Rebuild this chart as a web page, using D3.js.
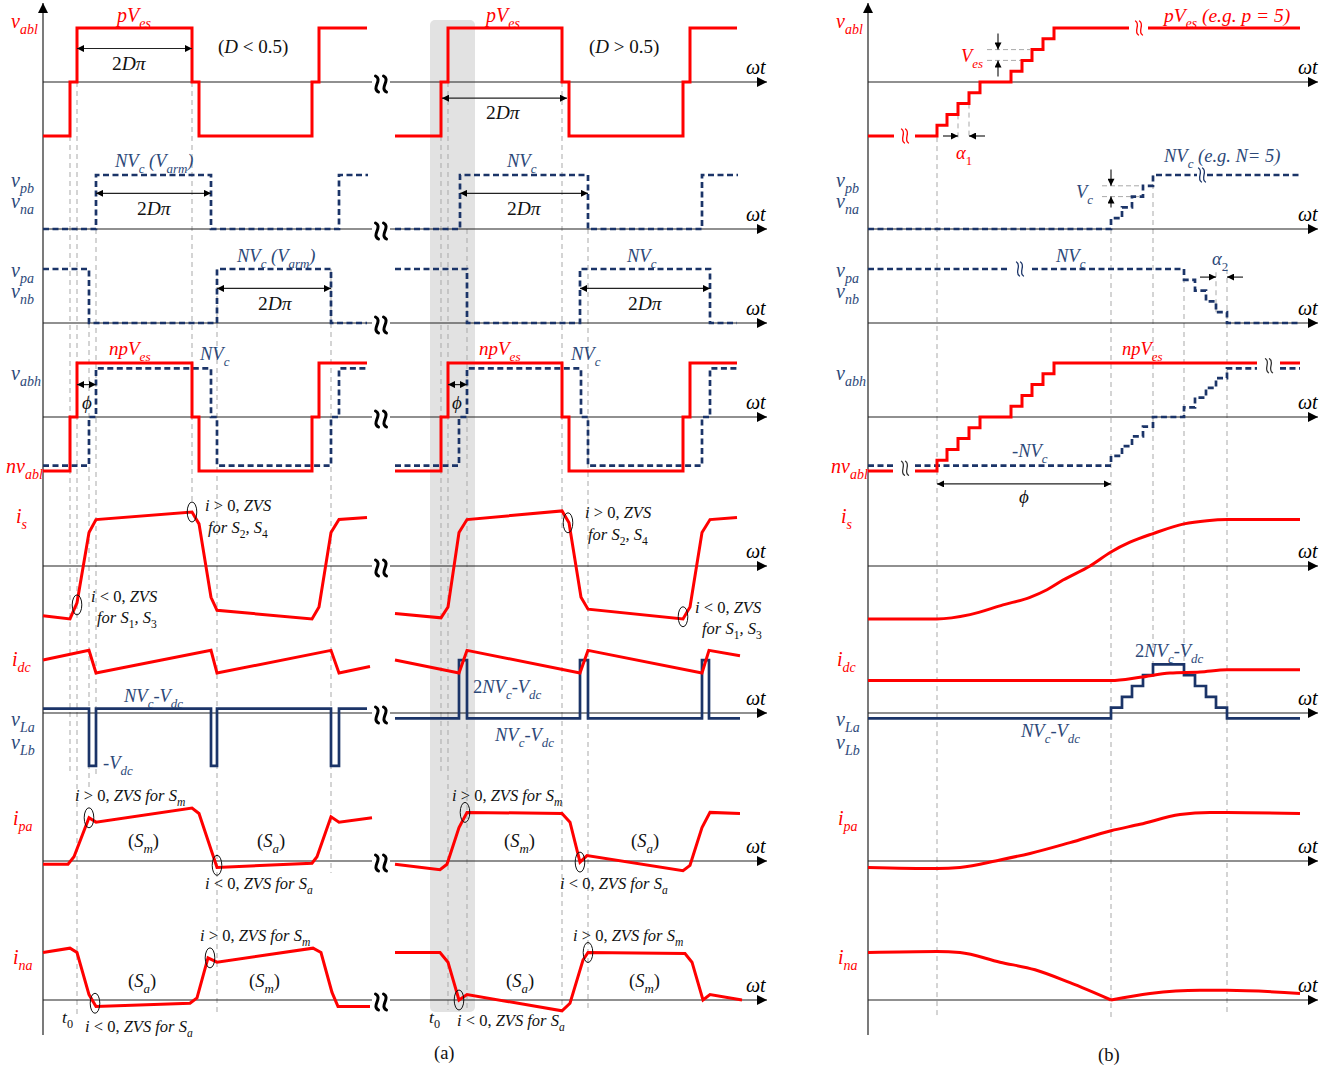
<!DOCTYPE html>
<html>
<head>
<meta charset="utf-8">
<script src="https://cdn.jsdelivr.net/npm/d3@7"></script>
<style>
  body { margin: 0; background: #fff; }
  svg { display: block; }
</style>
</head>
<body>
<svg id="chart" width="1342" height="1072"></svg>
<script>
// ---------------------------------------------------------------
// Waveform data. x: ωt in drawing units, y: level units per row
// (one level unit = one cell / submodule step).
// Panel (a): left half D < 0.5 (x 0..330), right half D > 0.5 (x 352..700)
// ---------------------------------------------------------------
const vablA1 = [[0,-5],[27,0],[34,5],[149,0],[156,-5],[269,0],[276,5],[324,5]];
const vablA2 = [[352,-5],[398,0],[405,5],[519,0],[526,-5],[640,0],[647,5],[694,5]];

const vpbA1 = [[0,0],[53,5],[168,0],[296,5],[325,5]];
const vpbA2 = [[352,0],[417,5],[545,0],[659,5],[695,5]];

const vpaA1 = [[0,5],[46,0],[174,5],[288,0],[324,0]];
const vpaA2 = [[352,5],[424,0],[537,5],[667,0],[694,0]];

const vabhA1 = [[0,-4.5],[46,0],[53,4.5],[168,0],[174,-4.5],[288,0],[296,4.5],[324,4.5]];
const vabhA2 = [[352,-4.5],[416,0],[424,4.5],[538,0],[545,-4.5],[659,0],[667,4.5],[694,4.5]];

const isA1 = [[0,-4.6],[27,-4.9],[34,-3.4],[46,3.1],[53,4.3],[149,5.0],[156,3.9],[168,-2.9],[174,-4.1],[269,-4.9],[276,-3.8],[288,3.1],[296,4.3],[324,4.5]];
const isA2 = [[352,-4.4],[398,-4.8],[405,-3.8],[416,3.1],[424,4.3],[519,5.1],[526,4.0],[538,-2.9],[545,-4.0],[640,-4.9],[647,-3.8],[659,3.1],[667,4.3],[694,4.5]];

const idcA1 = [[0,4.9],[46,5.8],[53,3.7],[168,5.8],[174,3.7],[288,5.8],[296,3.7],[327,4.3]];
const idcA2 = [[352,4.9],[416,3.7],[424,5.8],[537,3.7],[545,5.8],[659,3.7],[666,5.8],[697,5.3]];

const vLaA1 = [[0,0.4],[46,-4.9],[53,0.4],[168,-4.9],[174,0.4],[288,-4.9],[296,0.4],[324,0.4]];
const vLaA2 = [[352,-0.5],[416,4.9],[424,-0.5],[537,4.9],[545,-0.5],[659,4.9],[666,-0.5],[697,-0.5]];

const ipaA1 = [[0,-0.3],[25,-0.3],[31,0.4],[46,4.0],[53,3.6],[149,4.9],[156,4.4],[174,-0.6],[269,-0.2],[274,0.4],[288,4.1],[296,3.6],[329,4.0]];
const ipaA2 = [[352,-0.3],[397,-0.8],[404,-0.3],[416,3.1],[424,4.5],[519,4.4],[527,3.6],[537,-0.1],[544,0.5],[640,-0.9],[647,-0.4],[659,3.1],[667,4.5],[697,4.4]];

const inaA1 = [[0,4.4],[27,4.8],[34,4.4],[46,0.5],[53,-0.6],[147,-0.3],[154,0.2],[165,3.9],[174,3.5],[270,4.8],[278,4.4],[289,0.7],[295,-0.6],[327,-0.6]];
const inaA2 = [[352,4.4],[397,4.4],[405,3.5],[416,0],[424,0.5],[519,-1.0],[527,-0.3],[540,3.7],[545,4.4],[642,4.3],[649,3.5],[660,0],[667,0.5],[699,0]];

// ZVS instants circled on the current waveforms: [x, level, row]
const zvsPoints = [
  [34,-3.6,4],[149,5.0,4],[525,4.0,4],[640,-4.7,4],
  [46,4.0,6],[174,-0.4,6],[422,4.5,6],[537,-0.1,6],
  [52,-0.3,7],[167,3.9,7],[416,0,7],[545,4.4,7]
];

// Panel (b): one transition in detail, p = N = 5 (segments split at the breaks)
const vablB = [
  [[0,-5],[26,-5]],
  [[47,-5],[69,-4],[79,-3],[90,-2],[101,-1],[112,0],[143,1],[154,2],[164,3],[175,4],[186,5],[261,5]],
  [[280,5],[432,5]]
];
const vpbB = [
  [[0,0],[243,1],[254,2],[264,3],[275,4],[285,5],[329,5]],
  [[339,5],[432,5]]
];
const vpaB = [
  [[0,5],[140,5]],
  [[164,5],[316,4],[327,3],[338,2],[348,1],[359,0],[432,0]]
];
const nvablB = [
  [[0,-5],[25,-5]],
  [[47,-5],[69,-4],[79,-3],[90,-2],[101,-1],[112,0],[143,1],[154,2],[164,3],[175,4],[186,5],[389,5]],
  [[412,5],[432,5]]
];
const vabhB = [
  [[0,-4.5],[25,-4.5]],
  [[47,-4.5],[243,-3.6],[254,-2.7],[264,-1.8],[275,-0.9],[285,0],[316,0.9],[327,1.8],[338,2.7],[348,3.6],[359,4.5],[389,4.5]],
  [[412,4.5],[432,4.5]]
];
const isB = [[0,-4.9],[69,-4.9],[102,-4.5],[135,-3.6],[162,-2.9],[179,-2.2],[195,-1.3],[222,0],[243,1.3],[262,2.2],[285,3.0],[316,3.9],[339,4.2],[359,4.3],[432,4.3]];
const idcB = [[0,3.0],[243,3.0],[272,3.3],[302,3.7],[332,3.8],[359,4.0],[432,4.0]];
const vLaB = [[0,-0.5],[243,0.5],[254,1.5],[264,2.5],[275,3.5],[285,4.5],[316,3.5],[327,2.5],[338,1.5],[348,0.5],[359,-0.5],[432,-0.5]];
const ipaB = [[0,-0.6],[69,-0.7],[92,-0.6],[132,0.1],[162,0.7],[202,1.7],[243,2.8],[272,3.4],[312,4.3],[342,4.5],[359,4.5],[432,4.4]];
const inaB1 = [[0,4.4],[69,4.5],[92,4.4],[132,3.5],[167,2.8],[202,1.6],[243,0]];
const inaB2 = [[243,0],[282,0.6],[332,0.9],[359,0.9],[432,0.6]];

// ---------------------------------------------------------------
// Layout and scales
// ---------------------------------------------------------------
const RED = '#ff0000', NAVY = '#1b3468', BT = '#2c4878', GUIDE = '#a9a9a9';
const FONT = '"Liberation Serif","Times New Roman",serif';

const rowAxis = [82, 229, 323, 417, 566, 713, 861, 1000];
const yRow = rowAxis.map(a => d3.scaleLinear().domain([-5, 5]).range([a + 54, a - 54]));
const xa = d3.scaleLinear().domain([0, 720]).range([43, 763]);
const xb = d3.scaleLinear().domain([0, 450]).range([868, 1318]);

const svg = d3.select('#chart');
const defs = svg.append('defs');
function marker(id, w, h) {
  defs.append('marker').attr('id', id)
    .attr('viewBox', '0 0 10 10').attr('refX', 10).attr('refY', 5)
    .attr('markerWidth', w).attr('markerHeight', h)
    .attr('markerUnits', 'userSpaceOnUse').attr('orient', 'auto-start-reverse')
    .append('path').attr('d', 'M0,0L10,5L0,10z').attr('fill', '#000');
}
marker('axisHead', 13, 10);
marker('dimHead', 9, 7);

const gBand = svg.append('g');
const gGuide = svg.append('g');
const gAxis = svg.append('g');
const gWave = svg.append('g');
const gAnno = svg.append('g');
const gText = svg.append('g');

// shaded interval around t0 in the D > 0.5 case
gBand.append('rect')
  .attr('x', xa(387)).attr('y', 20)
  .attr('width', xa(432) - xa(387)).attr('height', 992)
  .attr('rx', 5).attr('fill', '#e2e2e2');

// dashed timing guides: [x, fromRow, fromLevel, toRow, toLevel]
const guidesA = [
  [27,0,-5,6,8.0],[34,0,0,7,-1.4],[46,2,0,6,6.6],[53,1,0,6,8.0],
  [149,0,0,4,5.8],[174,2,5,7,-1.2],[288,2,5,6,-1.1],
  [398,0,-5,6,8.0],[405,0,0,7,-0.9],[424,1,0,7,-0.9],[519,0,0,7,-0.5],[545,1,0,7,-1.1]
];
const guidesB = [
  [69,0,-5.1,7,-1.6],[243,1,0,7,-1.6],[285,1,5,5,4],[316,2,5,5,4],[359,2,5,7,-1.2],
  [90,0,-3,0,-5.2],[101,0,-2,0,-5.2],[348,2,4.7,2,1]
];
function guides(list, x) {
  gGuide.selectAll(null).data(list).join('line')
    .attr('x1', d => x(d[0])).attr('x2', d => x(d[0]))
    .attr('y1', d => yRow[d[1]](d[2])).attr('y2', d => yRow[d[3]](d[4]))
    .attr('stroke', GUIDE).attr('stroke-width', 1).attr('stroke-dasharray', '5,4');
}
guides(guidesA, xa);
guides(guidesB, xb);
// horizontal dimension guides (one step height): [row, level, x0, x1]
const stepGuides = [[0,3,119,162],[0,2,119,162],[1,4,234,275],[1,3,234,275]];
gGuide.selectAll(null).data(stepGuides).join('line')
  .attr('x1', d => xb(d[2])).attr('x2', d => xb(d[3]))
  .attr('y1', d => yRow[d[0]](d[1])).attr('y2', d => yRow[d[0]](d[1]))
  .attr('stroke', GUIDE).attr('stroke-width', 1).attr('stroke-dasharray', '5,3');

// axes
function axes(x, x1) {
  gAxis.append('line')
    .attr('x1', x(0)).attr('x2', x(0)).attr('y1', 1035).attr('y2', 3)
    .attr('stroke', '#333').attr('stroke-width', 1.3).attr('marker-end', 'url(#axisHead)');
  rowAxis.forEach((a, i) => {
    gAxis.append('line')
      .attr('x1', x(0)).attr('x2', x(x1))
      .attr('y1', yRow[i](0)).attr('y2', yRow[i](0))
      .attr('stroke', '#222').attr('stroke-width', 1.1).attr('marker-end', 'url(#axisHead)');
  });
}
axes(xa, 724);
axes(xb, 450);

// waveform drawing
function wave(data, x, row, color, opt = {}) {
  const line = d3.line()
    .x(d => x(d[0])).y(d => yRow[row](d[1]))
    .curve(opt.curve || d3.curveLinear);
  gWave.append('path').attr('d', line(data))
    .attr('fill', 'none').attr('stroke', color)
    .attr('stroke-width', opt.width || 3)
    .attr('stroke-linejoin', 'miter')
    .attr('stroke-dasharray', opt.dash || null);
}
const STEP = { curve: d3.curveStepAfter };
const DASH = { curve: d3.curveStepAfter, dash: '6,3.5', width: 2.7 };
const SOLID_NAVY = { curve: d3.curveStepAfter, width: 2.7 };
const SMOOTH = { curve: d3.curveMonotoneX };

// (a)
wave(vablA1, xa, 0, RED, STEP); wave(vablA2, xa, 0, RED, STEP);
wave(vpbA1, xa, 1, NAVY, DASH); wave(vpbA2, xa, 1, NAVY, DASH);
wave(vpaA1, xa, 2, NAVY, DASH); wave(vpaA2, xa, 2, NAVY, DASH);
wave(vabhA1, xa, 3, NAVY, DASH); wave(vabhA2, xa, 3, NAVY, DASH);
wave(vablA1, xa, 3, RED, STEP); wave(vablA2, xa, 3, RED, STEP);
wave(isA1, xa, 4, RED); wave(isA2, xa, 4, RED);
wave(vLaA1, xa, 5, NAVY, SOLID_NAVY); wave(vLaA2, xa, 5, NAVY, SOLID_NAVY);
wave(idcA1, xa, 5, RED); wave(idcA2, xa, 5, RED);
wave(ipaA1, xa, 6, RED); wave(ipaA2, xa, 6, RED);
wave(inaA1, xa, 7, RED); wave(inaA2, xa, 7, RED);

// (b)
vablB.forEach(s => wave(s, xb, 0, RED, STEP));
vpbB.forEach(s => wave(s, xb, 1, NAVY, DASH));
vpaB.forEach(s => wave(s, xb, 2, NAVY, DASH));
vabhB.forEach(s => wave(s, xb, 3, NAVY, DASH));
nvablB.forEach(s => wave(s, xb, 3, RED, STEP));
wave(isB, xb, 4, RED, SMOOTH);
wave(vLaB, xb, 5, NAVY, SOLID_NAVY);
wave(idcB, xb, 5, RED, SMOOTH);
wave(ipaB, xb, 6, RED, SMOOTH);
wave(inaB1, xb, 7, RED, SMOOTH);
wave(inaB2, xb, 7, RED, SMOOTH);

// ZVS ellipses
gAnno.selectAll(null).data(zvsPoints).join('ellipse')
  .attr('cx', d => xa(d[0])).attr('cy', d => yRow[d[2]](d[1]))
  .attr('rx', 4.8).attr('ry', 10)
  .attr('fill', 'none').attr('stroke', '#111').attr('stroke-width', 1);

// dimension arrows: [x0, x1, row, level]
const dimsA = [
  [34,149,0,3.1],[399,524,0,-1.5],
  [53,168,1,3.3],[417,545,1,3.3],
  [174,288,2,3.2],[537,667,2,3.2],
  [34,53,3,3.0],[405,424,3,3.0]
];
gAnno.selectAll(null).data(dimsA).join('line')
  .attr('x1', d => xa(d[0])).attr('x2', d => xa(d[1]))
  .attr('y1', d => yRow[d[2]](d[3])).attr('y2', d => yRow[d[2]](d[3]))
  .attr('stroke', '#222').attr('stroke-width', 1.2)
  .attr('marker-start', 'url(#dimHead)').attr('marker-end', 'url(#dimHead)');
// (b): φ span plus single-headed step markers [x0, y0, x1, y1, row, twoHeads]
const dimsB = [
  [69,-6.2,243,-6.2,3,1],
  [130,4.5,130,3,0,0],[130,0.5,130,2,0,0],
  [75,-5.0,90,-5.0,0,0],[117,-5.0,101,-5.0,0,0],
  [243,5.5,243,4,1,0],[243,2,243,3,1,0],
  [332,4.25,348,4.25,2,0],[375,4.25,359,4.25,2,0]
];
gAnno.selectAll(null).data(dimsB).join('line')
  .attr('x1', d => xb(d[0])).attr('x2', d => xb(d[2]))
  .attr('y1', d => yRow[d[4]](d[1])).attr('y2', d => yRow[d[4]](d[3]))
  .attr('stroke', '#222').attr('stroke-width', 1.2)
  .attr('marker-start', d => d[5] ? 'url(#dimHead)' : null)
  .attr('marker-end', 'url(#dimHead)');

// break marks
function squiggle(g, cx, cy, h, w, color, sw) {
  g.append('path')
    .attr('d', `M${cx - 1.5},${cy - h} C${cx + w},${cy - h / 2} ${cx - w},${cy + h / 2} ${cx + 1.5},${cy + h}`)
    .attr('fill', 'none').attr('stroke', color).attr('stroke-width', sw).attr('stroke-linecap', 'round');
}
rowAxis.forEach((a, i) => {
  const cx = xa(335), cy = yRow[i](0);
  gAnno.append('rect').attr('x', cx - 6).attr('y', cy - 4).attr('width', 18).attr('height', 8).attr('fill', '#fff');
  squiggle(gAnno, cx - 1, cy + 2, 8, 6, '#000', 3);
  squiggle(gAnno, cx + 7, cy + 2, 8, 6, '#000', 3);
});
// breaks on the (b) traces: [x, row, level, color]
const breaksB = [[37,0,-5,RED],[271,0,5,RED],[334,1,5,NAVY],[152,2,5,NAVY],[37,3,-4.75,'#333'],[401,3,4.75,'#333']];
breaksB.forEach(([x, r, v, c]) => {
  const cx = xb(x), cy = yRow[r](v);
  squiggle(gAnno, cx - 2, cy, 7, 4, c, 1.3);
  squiggle(gAnno, cx + 2, cy, 7, 4, c, 1.3);
});

// ---------------------------------------------------------------
// Text with subscripts: "_{..}" subscript, "|" toggles italic
// ---------------------------------------------------------------
function rich(x, y, markup, fill, size = 17, italic = true, anchor = 'start') {
  const t = gText.append('text').attr('x', x).attr('y', y)
    .attr('font-family', FONT).attr('font-size', size)
    .attr('fill', fill).attr('text-anchor', anchor);
  let it = italic, shift = 0;
  const sub = size * 0.3;
  markup.split(/(_\{[^}]*\}|\|)/).filter(s => s !== '').forEach(p => {
    if (p === '|') { it = !it; return; }
    if (p.startsWith('_{')) {
      const s = p.slice(2, -1);
      t.append('tspan').attr('dy', sub - shift).attr('font-size', size * 0.7)
        .attr('font-style', (/^[0-9]+$/.test(s) || !it) ? 'normal' : 'italic').text(s);
      shift = sub;
    } else {
      t.append('tspan').attr('dy', -shift).attr('font-style', it ? 'italic' : 'normal').text(p);
      shift = 0;
    }
  });
}

// row names
const rowNames = [
  ['v_{abl}',RED,28,0],['v_{pb}',BT,187,0],['v_{na}',BT,208,0],
  ['v_{pa}',BT,277,0],['v_{nb}',BT,298,0],['v_{abh}',BT,380,0],
  ['nv_{abl}',RED,473,-5],['i_{s}',RED,523,5],['i_{dc}',RED,666,1],
  ['v_{La}',BT,726,0],['v_{Lb}',BT,749,0],['i_{pa}',RED,825,2],['i_{na}',RED,964,2]
];
rowNames.forEach(([t, c, y, dx]) => {
  rich(11 + dx, y, t, c, 20);
  rich(836 + dx, y, t, c, 20);
});

// ωt labels
rowAxis.forEach((a, i) => {
  rich(xa(703), yRow[i](0) - 8, 'ωt', '#000', 20);
  rich(xb(430), yRow[i](0) - 8, 'ωt', '#000', 20);
});

const K = '#111';
const S = 16.5;
const texts = [
  // (a) row 1
  [117,22,'pV_{es}',RED,20,true],[486,22,'pV_{es}',RED,20,true],
  [112,70,'2|Dπ',K,19.5,false],[486,119,'2|Dπ',K,19.5,false],
  [218,53,'(|D| < 0.5)',K,19,false],[589,53,'(|D| > 0.5)',K,19,false],
  // row 2
  [115,167,'NV_{c} (V_{arm})',BT,18.5,true],[137,215,'2|Dπ',K,19.5,false],
  [507,167,'NV_{c}',BT,18.5,true],[507,215,'2|Dπ',K,19.5,false],
  // row 3
  [237,262,'NV_{c} (V_{arm})',BT,18.5,true],[258,310,'2|Dπ',K,19.5,false],
  [627,262,'NV_{c}',BT,18.5,true],[628,310,'2|Dπ',K,19.5,false],
  // row 4
  [109,355,'npV_{es}',RED,19,true],[200,360,'NV_{c}',BT,18.5,true],[82,409,'ϕ',K,19,true],
  [479,355,'npV_{es}',RED,19,true],[571,360,'NV_{c}',BT,18.5,true],[452,409,'ϕ',K,19,true],
  // row 5
  [91,602,'i |< 0,| ZVS',K,S,true],[97,623,'for S_{1}, S_{3}',K,S,true],
  [205,511,'i |> 0,| ZVS',K,S,true],[208,533,'for S_{2}, S_{4}',K,S,true],
  [585,518,'i |> 0,| ZVS',K,S,true],[588,540,'for S_{2}, S_{4}',K,S,true],
  [695,613,'i |< 0,| ZVS',K,S,true],[702,634,'for S_{1}, S_{3}',K,S,true],
  // row 6
  [124,702,'NV_{c}-V_{dc}',BT,18.5,true],[103,769,'-V_{dc}',BT,18.5,true],
  [473,693,'2|NV_{c}-V_{dc}',BT,18.5,false],[495,741,'NV_{c}-V_{dc}',BT,18.5,true],
  // row 7
  [75,801,'i |> 0,| ZVS for S_{m}',K,S,true],[128,847,'(|S_{m}|)',K,18.5,false],
  [257,847,'(|S_{a}|)',K,18.5,false],[205,889,'i |< 0,| ZVS for S_{a}',K,S,true],
  [452,801,'i |> 0,| ZVS for S_{m}',K,S,true],[504,847,'(|S_{m}|)',K,18.5,false],
  [631,847,'(|S_{a}|)',K,18.5,false],[560,889,'i |< 0,| ZVS for S_{a}',K,S,true],
  // row 8
  [200,941,'i |> 0,| ZVS for S_{m}',K,S,true],[128,987,'(|S_{a}|)',K,18.5,false],
  [249,987,'(|S_{m}|)',K,18.5,false],[85,1032,'i |< 0,| ZVS for S_{a}',K,S,true],
  [62,1023,'t_{0}',K,17.5,true],
  [573,941,'i |> 0,| ZVS for S_{m}',K,S,true],[506,987,'(|S_{a}|)',K,18.5,false],
  [629,987,'(|S_{m}|)',K,18.5,false],[457,1026,'i |< 0,| ZVS for S_{a}',K,S,true],
  [429,1023,'t_{0}',K,17.5,true],
  // captions
  [434,1059,'(a)',K,18.5,false],[1098,1061,'(b)',K,18.5,false],
  // (b)
  [1164,22,'pV_{es} (e.g. p = 5)',RED,19.5,true],
  [961,62,'V_{es}',RED,18.5,true],[956,159,'α_{1}',RED,18.5,true],
  [1164,162,'NV_{c} (e.g. N= 5)',BT,18.5,true],[1076,198,'V_{c}',BT,18.5,true],
  [1056,262,'NV_{c}',BT,18.5,true],[1212,265,'α_{2}',BT,18.5,true],
  [1122,355,'npV_{es}',RED,18.5,true],[1012,457,'-NV_{c}',BT,18.5,true],[1019,503,'ϕ',K,19,true],
  [1135,657,'2|NV_{c}-V_{dc}',BT,18.5,false],[1021,737,'NV_{c}-V_{dc}',BT,18.5,true]
];
texts.forEach(([x, y, t, c, s, it]) => rich(x, y, t, c, s, it));
</script>
</body>
</html>
